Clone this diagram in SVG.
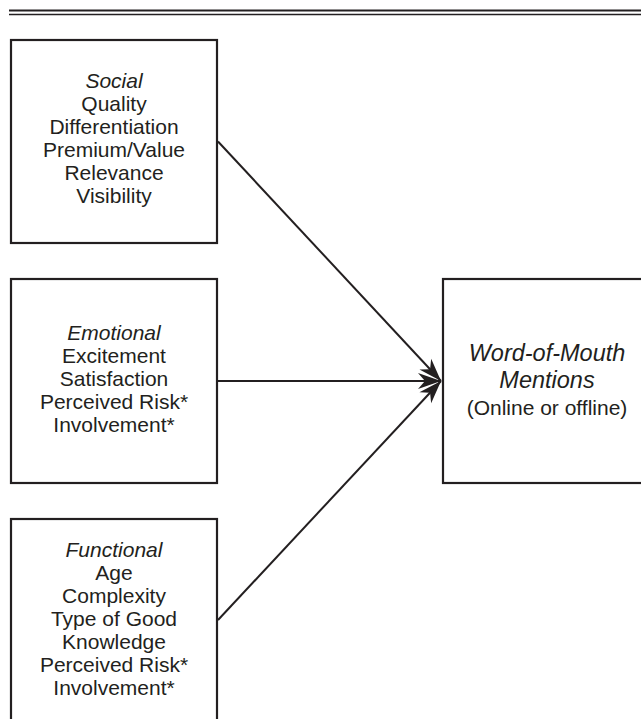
<svg xmlns="http://www.w3.org/2000/svg" width="641" height="719" viewBox="0 0 641 719">
<defs>
<style>
.box{fill:#fff;stroke:#231f20;stroke-width:2.2}
.t{font-family:"Liberation Sans",Arial,Helvetica,sans-serif;font-size:21px;fill:#231f20;text-anchor:middle}
.h{font-style:italic}
.w{font-size:23.5px}
.rule{stroke:#231f20}
.con{stroke:#231f20;stroke-width:2;fill:none}
</style>
<marker id="arr" markerUnits="userSpaceOnUse" markerWidth="28" markerHeight="20" viewBox="-26 -10 28 20" refX="0" refY="0" orient="auto">
<path d="M0,0 L-23,-8 L-16,0 L-23,8 Z" fill="#231f20"/>
</marker>
</defs>
<rect width="641" height="719" fill="#fff"/>
<g id="rule">
<line class="rule" x1="9" y1="10.5" x2="641" y2="10.5" stroke-width="2"/>
<line class="rule" x1="9" y1="14.5" x2="641" y2="14.5" stroke-width="1.5"/>
</g>
<g id="connectors">
<line class="con" x1="218" y1="141.5" x2="441" y2="381" marker-end="url(#arr)"/>
<line class="con" x1="217" y1="381" x2="441" y2="381" marker-end="url(#arr)"/>
<line class="con" x1="218" y1="620" x2="441" y2="381" marker-end="url(#arr)"/>
</g>
<g id="social">
<rect class="box" x="11" y="40" width="206" height="203"/>
<text class="t h" x="114" y="88">Social</text>
<text class="t" x="114" y="111">Quality</text>
<text class="t" x="114" y="134">Differentiation</text>
<text class="t" x="114" y="157">Premium/Value</text>
<text class="t" x="114" y="180">Relevance</text>
<text class="t" x="114" y="203">Visibility</text>
</g>
<g id="emotional">
<rect class="box" x="11" y="279" width="206" height="204"/>
<text class="t h" x="114" y="340">Emotional</text>
<text class="t" x="114" y="363">Excitement</text>
<text class="t" x="114" y="386">Satisfaction</text>
<text class="t" x="114" y="409">Perceived Risk*</text>
<text class="t" x="114" y="432">Involvement*</text>
</g>
<g id="functional">
<rect class="box" x="11" y="519" width="206" height="210"/>
<text class="t h" x="114" y="557">Functional</text>
<text class="t" x="114" y="580">Age</text>
<text class="t" x="114" y="603">Complexity</text>
<text class="t" x="114" y="626">Type of Good</text>
<text class="t" x="114" y="649">Knowledge</text>
<text class="t" x="114" y="672">Perceived Risk*</text>
<text class="t" x="114" y="695">Involvement*</text>
</g>
<g id="wom">
<rect class="box" x="443" y="279" width="210" height="204"/>
<text class="t h w" x="547" y="361">Word-of-Mouth</text>
<text class="t h w" x="547" y="388">Mentions</text>
<text class="t" x="547" y="415">(Online or offline)</text>
</g>
</svg>
